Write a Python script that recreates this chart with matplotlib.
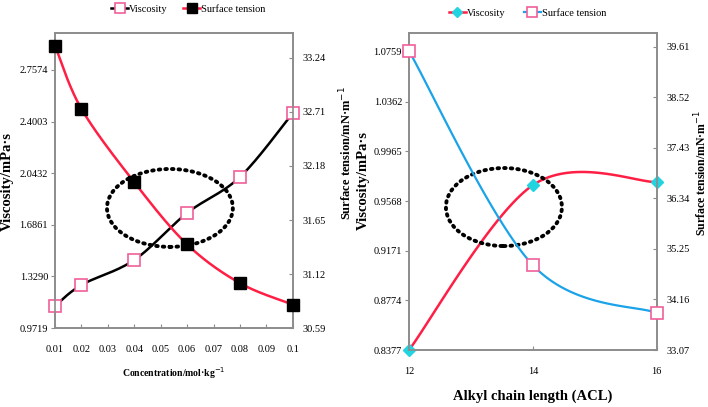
import numpy as np
import matplotlib.pyplot as plt
from matplotlib.patches import Ellipse
from matplotlib.lines import Line2D

plt.rcParams['font.family'] = ['Liberation Serif', 'DejaVu Serif']

# left panel: concentration series
conc = [0.01, 0.02, 0.04, 0.06, 0.08, 0.1]
visc_conc = [1.124, 1.270, 1.443, 1.768, 2.017, 2.460]
st_conc = [33.36, 32.74, 32.02, 31.41, 31.03, 30.82]
conc_ticks = [0.01, 0.02, 0.03, 0.04, 0.05, 0.06, 0.07, 0.08, 0.09, 0.1]
visc_ticks_l = [0.9719, 1.3290, 1.6861, 2.0432, 2.4003, 2.7574]
st_ticks_l = [30.59, 31.12, 31.65, 32.18, 32.71, 33.24]

# right panel: alkyl chain length series
acl = [12, 14, 16]
visc_acl = [0.8377, 0.9695, 0.9719]
st_acl = [39.52, 34.90, 33.87]
acl_ticks = [12, 14, 16]
visc_ticks_r = [0.8377, 0.8774, 0.9171, 0.9568, 0.9965, 1.0362, 1.0759]
st_ticks_r = [33.07, 34.16, 35.25, 36.34, 37.43, 38.52, 39.61]

RED = '#ff1f45'
BLUE = '#1aa3e8'
PINK = '#f0609a'
CYAN = '#22d3e0'
GREY = '#8c8c8c'


def smooth(xs, ys, n=40):
    # excel-like smoothed line (catmull-rom through the points)
    p = np.column_stack([xs, ys]).astype(float)
    p = np.vstack([p[0], p, p[-1]])
    out = []
    for i in range(1, len(p) - 2):
        p0, p1, p2, p3 = p[i - 1], p[i], p[i + 1], p[i + 2]
        t = np.linspace(0, 1, n)[:, None]
        seg = 0.5 * ((2 * p1) + (-p0 + p2) * t + (2 * p0 - 5 * p1 + 4 * p2 - p3) * t ** 2
                     + (-p0 + 3 * p1 - 3 * p2 + p3) * t ** 3)
        out.append(seg)
    out = np.vstack(out)
    return out[:, 0], out[:, 1]


def style(ax, ax2):
    for a in (ax, ax2):
        for s in a.spines.values():
            s.set_color(GREY)
            s.set_linewidth(1.2)
    ax.tick_params(axis='y', direction='out', length=3, color=GREY, labelsize=7.5, pad=2)
    ax.tick_params(axis='x', direction='in', length=3, color=GREY, labelsize=7.5, pad=12)
    ax2.tick_params(axis='y', direction='in', length=3, color=GREY, labelsize=7.5, pad=7)


fig = plt.figure(figsize=(7.08, 4.07), dpi=100)

# ---- left panel
ax = fig.add_axes([0.0777, 0.194, 0.336, 0.725])
ax2 = ax.twinx()
x, y = smooth(conc, visc_conc)
ax.plot(x, y, color='black', lw=1.8, zorder=2)
ax.plot(conc, visc_conc, ls='none', marker='s', ms=8, mfc='white', mec=PINK, mew=1.2,
        zorder=3, clip_on=False)
x, y = smooth(conc, st_conc)
ax2.plot(x, y, color=RED, lw=1.8, zorder=2)
ax2.plot(conc, st_conc, ls='none', marker='s', ms=8, color='black', zorder=3, clip_on=False)
ax.set_xlim(0.01, 0.1)
ax.set_ylim(0.9719, 3.013)
ax2.set_ylim(30.59, 33.485)
ax.set_xticks(conc_ticks)
ax.set_xticklabels([f'{t:g}' for t in conc_ticks])
ax.set_yticks(visc_ticks_l)
ax.set_yticklabels([f'{t:.4f}' for t in visc_ticks_l])
ax2.set_yticks(st_ticks_l)
ax2.set_yticklabels([f'{t:.2f}' for t in st_ticks_l])
style(ax, ax2)
ax.set_xlabel('Concentration/mol·kg$^{-1}$', fontsize=7, fontweight='bold', labelpad=8)
ax.set_ylabel('Viscosity/mPa·s', fontsize=10.5, fontweight='bold')
ax.yaxis.set_label_coords(-0.172, 0.495)
ax2.set_ylabel('Surface tension/mN·m$^{-1}$', fontsize=9, fontweight='bold', rotation=90)
ax2.yaxis.set_label_coords(1.19, 0.593)
ax.add_patch(Ellipse((0.483, 0.407), 0.529, 0.264, transform=ax.transAxes, fill=False,
                     ec='black', lw=2.8, ls=(0, (0.4, 1.3)), capstyle='round', zorder=5))
h1 = Line2D([], [], color='black', lw=1.8, marker='s', ms=7, mfc='white', mec=PINK, mew=1.2)
h2 = Line2D([], [], color=RED, lw=1.8, marker='s', ms=7, mfc='black', mec='black')
fig.legend([h1, h2], ['Viscosity', 'Surface tension'], loc='center', bbox_to_anchor=(0.266, 0.978),
           ncol=2, frameon=False, fontsize=7.5, handlelength=1.6, handletextpad=0.1,
           columnspacing=1.5)

# ---- right panel
bx = fig.add_axes([0.5777, 0.140, 0.350, 0.779])
bx2 = bx.twinx()
x, y = smooth(acl, visc_acl)
bx.plot(x, y, color=RED, lw=1.8, zorder=2)
bx.plot(acl, visc_acl, ls='none', marker='D', ms=6, color=CYAN, zorder=3, clip_on=False)
x, y = smooth(acl, st_acl)
bx2.plot(x, y, color=BLUE, lw=1.6, zorder=2)
bx2.plot(acl, st_acl, ls='none', marker='s', ms=8, mfc='white', mec=PINK, mew=1.2,
         zorder=3, clip_on=False)
bx.set_xlim(12, 16)
bx.set_ylim(0.8377, 1.0911)
bx2.set_ylim(33.07, 39.91)
bx.set_xticks(acl_ticks)
bx.set_yticks(visc_ticks_r)
bx.set_yticklabels([f'{t:.4f}' for t in visc_ticks_r])
bx2.set_yticks(st_ticks_r)
bx2.set_yticklabels([f'{t:.2f}' for t in st_ticks_r])
style(bx, bx2)
bx.set_xlabel('Alkyl chain length (ACL)', fontsize=10.5, fontweight='bold', labelpad=10)
bx.set_ylabel('Viscosity/mPa·s', fontsize=10.5, fontweight='bold')
bx.yaxis.set_label_coords(-0.158, 0.536)
bx2.set_ylabel('Surface tension/mN·m$^{-1}$', fontsize=8.5, fontweight='bold', rotation=90)
bx2.yaxis.set_label_coords(1.145, 0.558)
bx.add_patch(Ellipse((0.383, 0.451), 0.468, 0.246, transform=bx.transAxes, fill=False,
                     ec='black', lw=2.8, ls=(0, (0.4, 1.3)), capstyle='round', zorder=5))
g1 = Line2D([], [], color=RED, lw=1.8, marker='D', ms=5, mfc=CYAN, mec=CYAN)
g2 = Line2D([], [], color=BLUE, lw=1.6, marker='s', ms=7, mfc='white', mec=PINK, mew=1.2)
fig.legend([g1, g2], ['Viscosity', 'Surface tension'], loc='center', bbox_to_anchor=(0.745, 0.967),
           ncol=2, frameon=False, fontsize=7.5, handlelength=1.6, handletextpad=0.1,
           columnspacing=1.8)

fig.savefig('out.png', dpi=100)
